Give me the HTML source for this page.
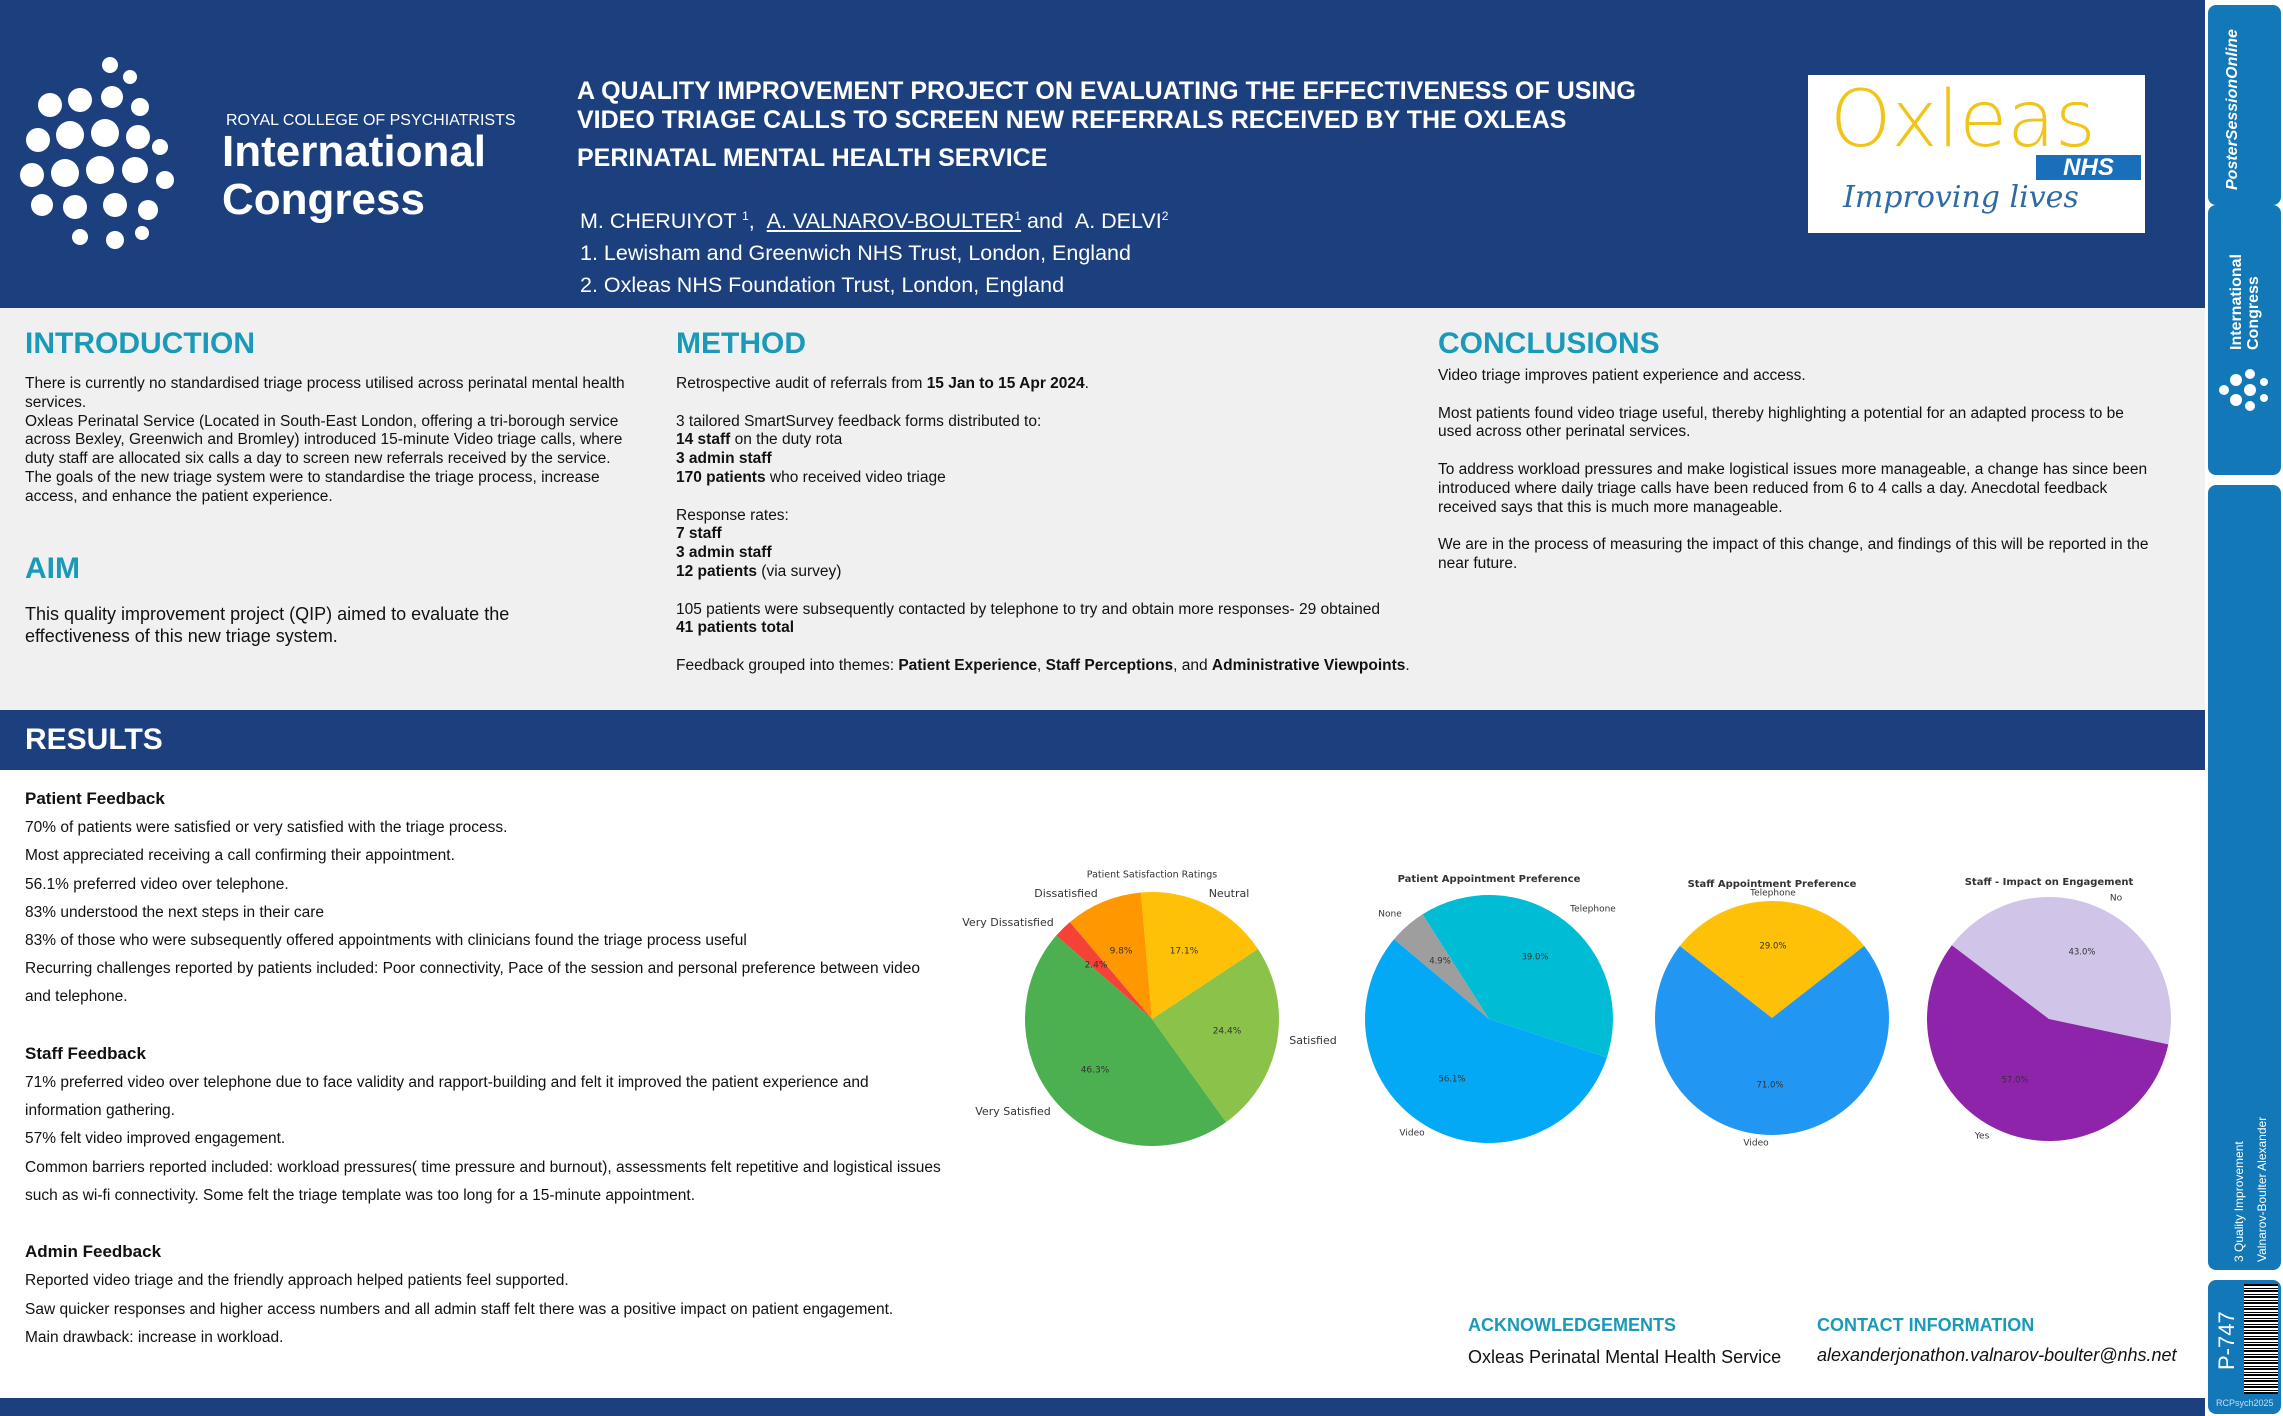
<!DOCTYPE html>
<html><head><meta charset="utf-8"><style>
*{margin:0;padding:0;box-sizing:border-box}
body{width:2283px;height:1416px;position:relative;overflow:hidden;background:#fff;font-family:"Liberation Sans",Arial,sans-serif;color:#111}
.a{position:absolute;white-space:nowrap}
.h{color:#1a9ab8;font-weight:bold;font-size:30px}
.t{font-size:15.5px;line-height:18.8px}
.r{font-size:15.5px;line-height:28.2px}
b{font-weight:bold}
.side{position:absolute;left:2208px;width:73px;background:#1278b8;border-radius:8px}
</style></head><body>
<div class="a" style="left:0;top:0;width:2205px;height:308px;background:#1c3f7e"></div>
<div class="a" style="left:0;top:308px;width:2205px;height:402px;background:#f0f0f0"></div>
<div class="a" style="left:0;top:710px;width:2205px;height:60px;background:#1c3f7e"></div>
<div class="a" style="left:0;top:1398px;width:2205px;height:18px;background:#1c3f7e"></div>

<!-- logo -->
<svg class="a" style="left:20px;top:55px" width="180" height="200">
<g fill="#fff">
<circle cx="90" cy="10" r="8"/><circle cx="110" cy="22" r="7"/>
<circle cx="30" cy="50" r="12"/><circle cx="60" cy="45" r="12"/><circle cx="92" cy="42" r="11"/><circle cx="120" cy="52" r="9"/>
<circle cx="18" cy="85" r="12"/><circle cx="50" cy="80" r="14"/><circle cx="85" cy="78" r="14"/><circle cx="118" cy="82" r="12"/><circle cx="140" cy="92" r="8"/>
<circle cx="12" cy="120" r="12"/><circle cx="45" cy="118" r="14"/><circle cx="80" cy="115" r="14"/><circle cx="115" cy="115" r="13"/><circle cx="145" cy="125" r="9"/>
<circle cx="22" cy="150" r="11"/><circle cx="55" cy="152" r="12"/><circle cx="95" cy="150" r="12"/><circle cx="128" cy="155" r="10"/>
<circle cx="60" cy="182" r="8"/><circle cx="95" cy="185" r="9"/><circle cx="122" cy="178" r="7"/>
</g></svg>
<div class="a" style="left:226px;top:112px;color:#fff;font-size:16px">ROYAL COLLEGE OF PSYCHIATRISTS</div>
<div class="a" style="left:222px;top:128px;color:#fff;font-size:44px;font-weight:bold;line-height:48px">International<br>Congress</div>

<div class="a" style="left:577px;top:77px;color:#fff;font-size:25px;font-weight:bold;line-height:29px">A QUALITY IMPROVEMENT PROJECT ON EVALUATING THE EFFECTIVENESS OF USING<br>VIDEO TRIAGE CALLS TO SCREEN NEW REFERRALS RECEIVED BY THE OXLEAS</div>
<div class="a" style="left:577px;top:144px;color:#fff;font-size:25px;font-weight:bold">PERINATAL MENTAL HEALTH SERVICE</div>
<div class="a" style="left:580px;top:200px;color:#fff;font-size:21.5px;line-height:32px">M. CHERUIYOT <sup style="font-size:12px">1</sup>, &nbsp;<u>A. VALNAROV-BOULTER<sup style="font-size:12px">1</sup></u> and &nbsp;A. DELVI<sup style="font-size:12px">2</sup><br>1. Lewisham and Greenwich NHS Trust, London, England<br>2. Oxleas NHS Foundation Trust, London, England</div>

<div class="a" style="left:1808px;top:75px;width:337px;height:158px;background:#fff">
<div class="a" style="left:22px;top:0px;color:#f0c419;font-size:78px;font-family:'DejaVu Sans',sans-serif;font-weight:300">Oxleas</div>
<div class="a" style="left:228px;top:80px;width:105px;height:25px;background:#1a6fba;color:#fff;font-weight:bold;font-style:italic;font-size:24px;text-align:center;line-height:25px">NHS</div>
<div class="a" style="left:35px;top:105px;color:#2e6aa3;font-size:30px;font-style:italic;font-family:'DejaVu Serif',serif">Improving lives</div>
</div>

<!-- sections -->
<div class="a h" style="left:25px;top:327px">INTRODUCTION</div>
<div class="a t" style="left:25px;top:375px">There is currently no standardised triage process utilised across perinatal mental health<br>services.<br>Oxleas Perinatal Service (Located in South-East London, offering a tri-borough service<br>across Bexley, Greenwich and Bromley) introduced 15-minute Video triage calls, where<br>duty staff are allocated six calls a day to screen new referrals received by the service.<br>The goals of the new triage system were to standardise the triage process, increase<br>access, and enhance the patient experience.</div>
<div class="a h" style="left:25px;top:552px">AIM</div>
<div class="a" style="left:25px;top:603px;font-size:18px;line-height:22px">This quality improvement project (QIP) aimed to evaluate the<br>effectiveness of this new triage system.</div>

<div class="a h" style="left:676px;top:327px">METHOD</div>
<div class="a t" style="left:676px;top:375px">Retrospective audit of referrals from <b>15 Jan to 15 Apr 2024</b>.<br><br>3 tailored SmartSurvey feedback forms distributed to:<br><b>14 staff</b> on the duty rota<br><b>3 admin staff</b><br><b>170 patients</b> who received video triage<br><br>Response rates:<br><b>7 staff</b><br><b>3 admin staff</b><br><b>12 patients</b> (via survey)<br><br>105 patients were subsequently contacted by telephone to try and obtain more responses- 29 obtained<br><b>41 patients total</b><br><br>Feedback grouped into themes: <b>Patient Experience</b>, <b>Staff Perceptions</b>, and <b>Administrative Viewpoints</b>.</div>

<div class="a h" style="left:1438px;top:327px">CONCLUSIONS</div>
<div class="a t" style="left:1438px;top:367px">Video triage improves patient experience and access.<br><br>Most patients found video triage useful, thereby highlighting a potential for an adapted process to be<br>used across other perinatal services.<br><br>To address workload pressures and make logistical issues more manageable, a change has since been<br>introduced where daily triage calls have been reduced from 6 to 4 calls a day. Anecdotal feedback<br>received says that this is much more manageable.<br><br>We are in the process of measuring the impact of this change, and findings of this will be reported in the<br>near future.</div>

<div class="a" style="left:25px;top:723px;color:#fff;font-size:30px;font-weight:bold">RESULTS</div>
<div class="a r" style="left:25px;top:785px"><b style="font-size:17px">Patient Feedback</b><br>70% of patients were satisfied or very satisfied with the triage process.<br>Most appreciated receiving a call confirming their appointment.<br>56.1% preferred video over telephone.<br>83% understood the next steps in their care<br>83% of those who were subsequently offered appointments with clinicians found the triage process useful<br>Recurring challenges reported by patients included: Poor connectivity, Pace of the session and personal preference between video<br>and telephone.<br><br><b style="font-size:17px">Staff Feedback</b><br>71% preferred video over telephone due to face validity and rapport-building and felt it improved the patient experience and<br>information gathering.<br>57% felt video improved engagement.<br>Common barriers reported included: workload pressures( time pressure and burnout), assessments felt repetitive and logistical issues<br>such as wi-fi connectivity. Some felt the triage template was too long for a 15-minute appointment.<br><br><b style="font-size:17px">Admin Feedback</b><br>Reported video triage and the friendly approach helped patients feel supported.<br>Saw quicker responses and higher access numbers and all admin staff felt there was a positive impact on patient engagement.<br>Main drawback: increase in workload.</div>

<div class="a" style="left:1468px;top:1315px;color:#1a9ab8;font-weight:bold;font-size:18px">ACKNOWLEDGEMENTS</div>
<div class="a" style="left:1468px;top:1347px;font-size:18px">Oxleas Perinatal Mental Health Service</div>
<div class="a" style="left:1817px;top:1315px;color:#1a9ab8;font-weight:bold;font-size:18px">CONTACT INFORMATION</div>
<div class="a" style="left:1817px;top:1345px;font-size:18px;font-style:italic">alexanderjonathon.valnarov-boulter@nhs.net</div>

<!-- pies -->
<svg id="pies" class="a" style="left:0;top:0" width="2205" height="1416" font-family="DejaVu Sans, sans-serif" fill="#333"></svg>

<!-- sidebar -->
<div class="side" style="top:5px;height:200px"></div>
<div class="side" style="top:205px;height:270px"></div>
<div class="side" style="top:485px;height:785px"></div>
<div class="side" style="top:1280px;height:134px"></div>
<div class="a" style="left:2224px;top:190px;color:#fff;font-size:16px;font-weight:bold;font-style:italic;transform:rotate(-90deg);transform-origin:0 0">PosterSessionOnline</div>
<div class="a" style="left:2228px;top:350px;color:#fff;font-size:16px;font-weight:bold;transform:rotate(-90deg);transform-origin:0 0;line-height:17px">International<br>Congress</div>
<svg class="a" style="left:2214px;top:360px" width="60" height="60"><g fill="#fff"><circle cx="10" cy="30" r="5"/><circle cx="22" cy="20" r="6"/><circle cx="22" cy="40" r="6"/><circle cx="36" cy="14" r="5"/><circle cx="36" cy="30" r="6"/><circle cx="36" cy="46" r="5"/><circle cx="50" cy="22" r="4"/><circle cx="50" cy="38" r="4"/></g></svg>
<div class="a" style="left:2232px;top:1262px;color:#fff;font-size:12px;transform:rotate(-90deg);transform-origin:0 0">3 Quality Improvement</div>
<div class="a" style="left:2255px;top:1262px;color:#fff;font-size:12px;transform:rotate(-90deg);transform-origin:0 0">Valnarov-Boulter Alexander</div>
<div class="a" style="left:2214px;top:1370px;color:#fff;font-size:22px;transform:rotate(-90deg);transform-origin:0 0">P-747</div>
<div class="a" style="left:2244px;top:1284px;width:34px;height:110px;background:repeating-linear-gradient(0deg,#000 0 2px,#fff 2px 3px,#000 3px 4px,#fff 4px 6px)"></div>
<div class="a" style="left:2216px;top:1398px;color:#cde;font-size:9px">RCPsych2025</div>

<script>
const svg=document.getElementById('pies');let h='';
function pie(cx,cy,r,sl){for(const [a0,a1,c] of sl){const p=a=>[cx+r*Math.cos(a*Math.PI/180),cy-r*Math.sin(a*Math.PI/180)];const [x0,y0]=p(a0),[x1,y1]=p(a1);const lg=(a1-a0)>180?1:0;h+=`<path d="M${cx},${cy} L${x0},${y0} A${r},${r} 0 ${lg} 0 ${x1},${y1} Z" fill="${c}"/>`;}}
function t(x,y,s,sz,b){h+=`<text x="${x}" y="${y}" font-size="${sz}" text-anchor="middle" dominant-baseline="middle"${b?' font-weight="bold"':''}>${s}</text>`;}
pie(1152,1019,127,[[95,130.3,'#ff9800'],[130.3,139,'#f44336'],[139,305.7,'#4caf50'],[305.7,393.5,'#8bc34a'],[393.5,455,'#ffc107']]);
pie(1489,1019,124,[[122.4,140,'#9e9e9e'],[140,342,'#03a9f4'],[342,482.4,'#00bcd4']]);
pie(1772,1018,117,[[38,142,'#ffc107'],[142,398,'#2196f3']]);
pie(2049,1019,122,[[-12,142.8,'#d1c4e9'],[142.8,348,'#8e24aa']]);
t(1152,875,'Patient Satisfaction Ratings',9.5);
t(1066,894,'Dissatisfied',11);t(1229,894,'Neutral',11);t(1008,923,'Very Dissatisfied',11);t(1313,1041,'Satisfied',11);t(1013,1112,'Very Satisfied',11);
t(1121,951,'9.8%',9);t(1184,951,'17.1%',9);t(1096,965,'2.4%',9);t(1227,1031,'24.4%',9);t(1095,1070,'46.3%',9);
t(1489,879,'Patient Appointment Preference',10,1);t(1390,914,'None',9);t(1593,909,'Telephone',9);t(1412,1133,'Video',9);
t(1440,961,'4.9%',8.5);t(1535,957,'39.0%',8.5);t(1452,1079,'56.1%',8.5);
t(1772,884,'Staff Appointment Preference',10,1);t(1773,893,'Telephone',9);t(1756,1143,'Video',9);t(1773,946,'29.0%',8.5);t(1770,1085,'71.0%',8.5);
t(2049,882,'Staff - Impact on Engagement',10,1);t(2116,898,'No',9);t(1982,1136,'Yes',9);t(2082,952,'43.0%',8.5);t(2015,1080,'57.0%',8.5);
svg.innerHTML=h;
</script>
</body></html>
